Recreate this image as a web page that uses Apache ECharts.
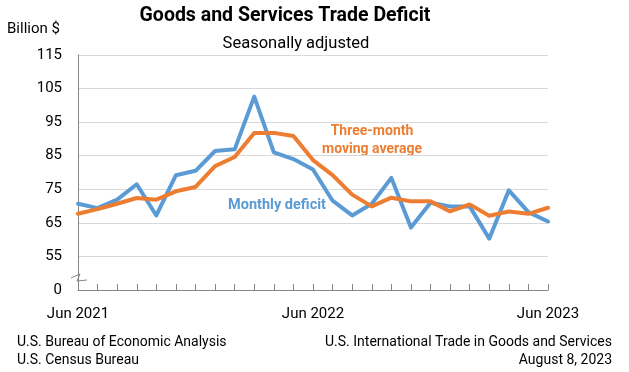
<!DOCTYPE html>
<html>
<head>
<meta charset="utf-8">
<script src="https://cdn.jsdelivr.net/npm/echarts@6/dist/echarts.min.js"></script>
<style>
html,body{margin:0;padding:0;background:#fff;}
#chart{width:629px;height:372px;}
</style>
</head>
<body>
<div id="chart"></div>
<script>
const months = ['Jun 2021','Jul 2021','Aug 2021','Sep 2021','Oct 2021','Nov 2021','Dec 2021',
  'Jan 2022','Feb 2022','Mar 2022','Apr 2022','May 2022','Jun 2022','Jul 2022','Aug 2022',
  'Sep 2022','Oct 2022','Nov 2022','Dec 2022','Jan 2023','Feb 2023','Mar 2023','Apr 2023',
  'May 2023','Jun 2023'];
const monthlyDeficit = [70.7,69.4,71.9,76.5,67.2,79.2,80.5,86.4,86.9,102.6,86.0,84.0,80.9,
  71.6,67.2,70.7,78.4,63.6,71.0,69.9,69.9,60.3,74.7,68.2,65.4];
const movingAverage = [67.7,69.1,70.7,72.4,71.9,74.4,75.7,81.9,84.6,91.8,91.8,90.9,83.7,
  79.2,73.4,69.9,72.5,71.4,71.4,68.4,70.5,67.1,68.4,67.7,69.5];
const shownMonths = ['Jun 2021','Jun 2022','Jun 2023'];
// axis is broken: bottom value (45) is labelled 0
const yTickLabels = {45:'0',55:'55',65:'65',75:'75',85:'85',95:'95',105:'105',115:'115'};

const FONT = 'Roboto';
const chart = echarts.init(document.getElementById('chart'), null, {renderer:'canvas'});
chart.setOption({
  animation:false,
  backgroundColor:'#fff',
  textStyle:{fontFamily:FONT},
  title:[
    {text:'Goods and Services Trade Deficit', left:280, top:1, textAlign:'center',
     textStyle:{fontFamily:FONT, fontSize:19.5, fontWeight:'bold', color:'#000'}},
    {text:'Seasonally adjusted', left:291, top:30, textAlign:'center',
     textStyle:{fontFamily:FONT, fontSize:16.5, fontWeight:'normal', color:'#000'}}
  ],
  grid:{left:78, right:81, top:55, bottom:82, containLabel:false},
  xAxis:{
    type:'category', data:months, boundaryGap:false,
    axisLine:{lineStyle:{color:'#868686', width:1}},
    axisTick:{show:true, interval:0, length:6, inside:true, lineStyle:{color:'#868686'}},
    axisLabel:{interval:0, margin:17, color:'#000', fontSize:15, fontFamily:FONT,
      formatter:function(v){return shownMonths.indexOf(v)>=0 ? v : '';}},
    splitLine:{show:false}
  },
  yAxis:{
    type:'value', min:45, max:115, interval:10,
    axisLine:{show:true, lineStyle:{color:'#868686', width:1}},
    axisTick:{show:false},
    axisLabel:{color:'#000', fontSize:15, fontFamily:FONT, margin:16,
      formatter:function(v){return yTickLabels[v]!==undefined ? yTickLabels[v] : '';}},
    splitLine:{show:true, lineStyle:{color:'#D9D9D9', width:1}}
  },
  series:[
    {name:'Monthly deficit', type:'line', data:monthlyDeficit, symbol:'none',
     lineStyle:{color:'#5B9BD5', width:4, cap:'round', join:'round'}, z:2},
    {name:'Three-month moving average', type:'line', data:movingAverage, symbol:'none',
     lineStyle:{color:'#ED7D31', width:4, cap:'round', join:'round'}, z:3}
  ],
  graphic:[
    {type:'text', left:7, top:22, style:{text:'Billion $', font:'15px '+FONT, fill:'#000'}},
    {type:'polyline', z:10, shape:{points:[[71,278],[80,274],[77,281],[87,280]]},
     style:{stroke:'#868686', lineWidth:1, fill:null}},
    {type:'text', x:372, y:131, style:{text:'Three-month', font:'bold 14px '+FONT, fill:'#ED7D31', align:'center', verticalAlign:'middle'}},
    {type:'text', x:372, y:149, style:{text:'moving average', font:'bold 14px '+FONT, fill:'#ED7D31', align:'center', verticalAlign:'middle'}},
    {type:'text', x:277, y:205, style:{text:'Monthly deficit', font:'bold 14.5px '+FONT, fill:'#5B9BD5', align:'center', verticalAlign:'middle'}},
    {type:'text', x:17, y:342, style:{text:'U.S. Bureau of Economic Analysis', font:'14px '+FONT, fill:'#000', verticalAlign:'middle'}},
    {type:'text', x:17, y:360, style:{text:'U.S. Census Bureau', font:'14px '+FONT, fill:'#000', verticalAlign:'middle'}},
    {type:'text', x:612, y:342, style:{text:'U.S. International Trade in Goods and Services', font:'14px '+FONT, fill:'#000', align:'right', verticalAlign:'middle'}},
    {type:'text', x:612, y:360, style:{text:'August 8, 2023', font:'14px '+FONT, fill:'#000', align:'right', verticalAlign:'middle'}}
  ]
});
</script>
</body>
</html>
